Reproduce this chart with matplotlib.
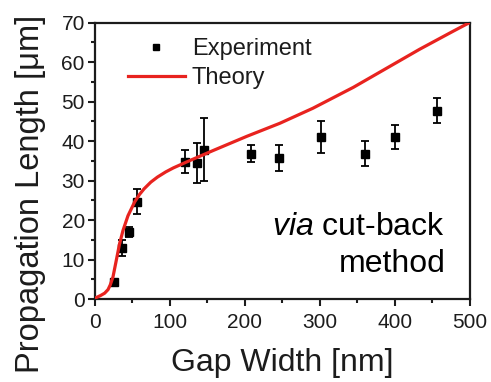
import matplotlib
matplotlib.use("Agg")
import matplotlib.pyplot as plt
from matplotlib.lines import Line2D
from matplotlib.ticker import MultipleLocator

plt.rcParams['font.family'] = ['Liberation Sans', 'DejaVu Sans']
plt.rcParams['mathtext.fontset'] = 'custom'
plt.rcParams['mathtext.rm'] = 'Liberation Sans'
plt.rcParams['mathtext.it'] = 'Liberation Sans:italic'

# Measured propagation lengths (cut-back method)
gap_exp = [26, 36, 46, 56, 121, 136, 146, 209, 246, 302, 361, 401, 456]
length_exp = [4.3, 12.9, 17.0, 24.7, 34.8, 34.4, 37.8, 36.8, 35.7, 41.0, 36.8, 41.0, 47.7]
length_err = [0.8, 2.0, 1.3, 3.1, 2.9, 5.1, 8.0, 2.1, 3.2, 4.1, 3.2, 3.1, 3.1]

# Calculated propagation length
gap_theory = [0, 2.4, 8, 13.5, 18, 21, 24.6, 29, 33.5, 38, 44.6, 53.5, 60, 66,
              75, 84, 95, 105, 125, 158, 203, 247, 291, 345, 389, 433, 478, 500]
length_theory = [0, 0.4, 0.9, 1.5, 2.4, 3.6, 5.6, 9.8, 14.1, 17.4, 21.1, 24.6,
                 26.5, 27.9, 29.6, 30.9, 32.2, 33.2, 34.9, 37.6, 41.2, 44.5,
                 48.3, 53.6, 58.4, 63.2, 67.8, 70]

x_ticks = [0, 100, 200, 300, 400, 500]
y_ticks = [0, 10, 20, 30, 40, 50, 60, 70]

fig = plt.figure(figsize=(4.91, 3.82), dpi=100)
ax = fig.add_axes([0.1925, 0.217, 0.764, 0.724])

red = '#e8231f'
ink = '#1c1c1c'

ax.errorbar(gap_exp, length_exp, yerr=length_err, fmt='s', color='black',
            markersize=5.3, elinewidth=1.3, capsize=3, capthick=1.3, zorder=3)
ax.plot(gap_theory, length_theory, color=red, linewidth=2.3, zorder=4,
        solid_capstyle='round', solid_joinstyle='round')

ax.set_xlim(0, 500)
ax.set_ylim(0, 70)
ax.set_xticks(x_ticks)
ax.set_yticks(y_ticks)
ax.xaxis.set_minor_locator(MultipleLocator(50))
ax.yaxis.set_minor_locator(MultipleLocator(5))

for s in ax.spines.values():
    s.set_linewidth(1.6)
    s.set_color(ink)

ax.tick_params(which='major', direction='out', length=5, width=1.5,
               labelsize=15, colors=ink)
ax.tick_params(axis='x', which='major', pad=5)
ax.tick_params(axis='y', which='major', pad=2)
ax.tick_params(which='minor', direction='out', length=3, width=1.5, colors=ink)
ax.tick_params(top=False, right=False, which='both')

ax.set_xlabel('Gap Width [nm]', fontsize=23, color=ink)
ax.xaxis.set_label_coords(0.5, -0.175)
ax.set_ylabel('Propagation Length [\u03bcm]', fontsize=23.5, color=ink)
ax.yaxis.set_label_coords(-0.13, 0.38)

ax.text(0.935, 0.262, r'$\it{via}$ cut-back', transform=ax.transAxes,
        ha='right', va='center', fontsize=23, color='black')
ax.text(0.935, 0.126, 'method', transform=ax.transAxes,
        ha='right', va='center', fontsize=23, color='black')

handles = [
    Line2D([], [], linestyle='none', marker='s', markersize=5, color='black'),
    Line2D([], [], color=red, linewidth=2.3),
]
leg = ax.legend(handles, ['Experiment', 'Theory'], loc='upper left',
                bbox_to_anchor=(0.089, 0.944), frameon=False, fontsize=17,
                handlelength=2.4, handletextpad=0.3, labelspacing=0.31,
                borderpad=0, borderaxespad=0)
for t in leg.get_texts():
    t.set_color(ink)

fig.savefig('out.png', dpi=100)
